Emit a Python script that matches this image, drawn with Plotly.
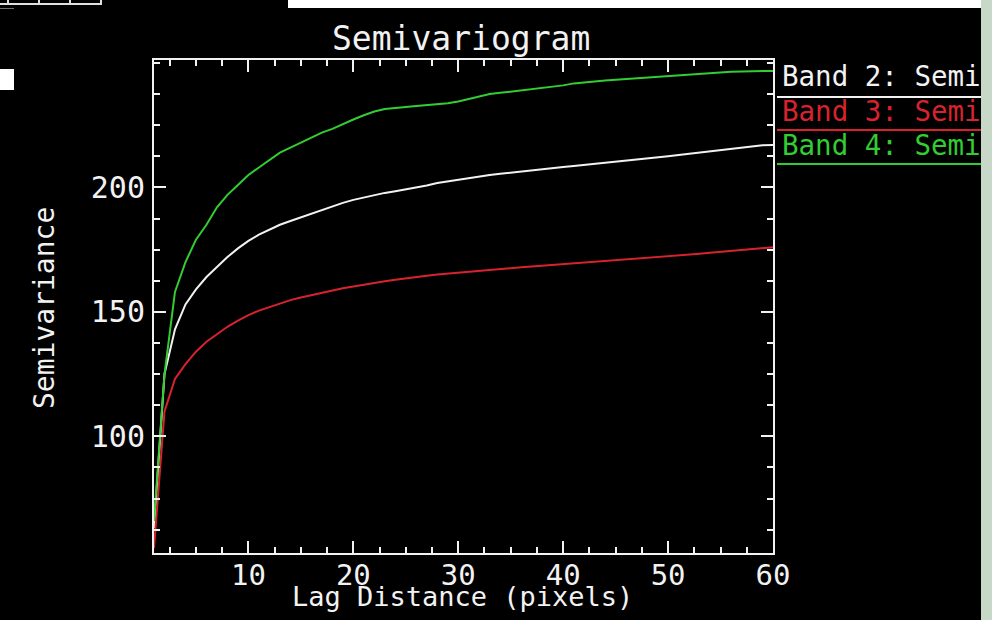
import plotly.graph_objects as go

W, H = 992, 620

# Lag distance in pixels
lag = list(range(1, 61))

# Semivariance per band at each lag
band2 = [63, 125, 143, 153, 159, 164, 168, 172, 175.5, 178.5,
         181, 183, 185, 186.5, 188, 189.5, 191, 192.5, 193.8, 195,
         196, 197, 197.8, 198.5, 199.2, 200, 200.8, 201.8, 202.5, 203.2,
         203.8, 204.4, 205, 205.5, 206, 206.5, 207, 207.4, 207.8, 208.2,
         208.6, 209, 209.4, 209.8, 210.2, 210.6, 211, 211.5, 212, 212.5,
         213, 213.5, 214, 214.6, 215.1, 215.6, 216.1, 216.5, 216.9, 217]
band3 = [55, 110, 123, 129, 134, 138, 141, 144, 146.5, 148.7,
         150.5, 152, 153.4, 154.7, 155.8, 156.8, 157.8, 158.7, 159.5, 160.2,
         161, 161.7, 162.3, 162.9, 163.5, 164, 164.5, 165, 165.4, 165.8,
         166.2, 166.6, 167, 167.3, 167.6, 167.9, 168.2, 168.5, 168.8, 169.1,
         169.4, 169.7, 170, 170.3, 170.6, 170.9, 171.2, 171.5, 171.8, 172.1,
         172.5, 172.9, 173.3, 173.7, 174.1, 174.5, 174.9, 175.3, 175.7, 176]
band4 = [66, 125, 158, 170, 179, 185, 192, 197, 201, 205,
         208, 211, 214, 216, 218, 220, 222, 223.5, 225.5, 227.3,
         229, 230.5, 231.5, 232, 232.3, 232.7, 233, 233.3, 233.8, 234.5,
         235.5, 236.5, 237.5, 238, 238.5, 239, 239.5, 240, 240.5, 241,
         241.8, 242.3, 242.7, 243, 243.3, 243.6, 243.9, 244.2, 244.5, 244.8,
         245.1, 245.4, 245.8, 246.1, 246.3, 246.5, 246.6, 246.7, 246.7, 246.8]

series = [band2, band3, band4]
series_names = ["Band 2: Semivariogram", "Band 3: Semivariogram", "Band 4: Semivariogram"]
series_colors = ["#f2f2f2", "#d8232f", "#33cc33"]

x_range = [1, 60]
x_ticks = [10, 20, 30, 40, 50, 60]
y_range = [53.1, 251.2]
y_ticks = [100, 150, 200]

FONT = "DejaVu Sans Mono"
WHITE = "#f2f2f2"


def fx(p):
    return p / W


def fy(p):
    return 1 - p / H


fig = go.Figure()

for vals, name, col in zip(series, series_names, series_colors):
    fig.add_trace(go.Scatter(x=lag, y=vals, mode="lines", name=name,
                             line=dict(color=col, width=2),
                             xaxis="x", yaxis="y", showlegend=False,
                             hoverinfo="skip"))

# Key on the right: label with an underline of the series colour,
# clipped to its own panel so the text is cut at the panel edge.
key_text_y = [79, 114, 148]
key_line_y = [97, 130, 164]
for name, col, ty, ly in zip(series_names, series_colors, key_text_y, key_line_y):
    fig.add_trace(go.Scatter(x=[782], y=[ty], mode="text", text=[name],
                             textposition="middle right",
                             textfont=dict(family=FONT, size=27.5, color=col),
                             xaxis="x2", yaxis="y2", cliponaxis=True,
                             showlegend=False, hoverinfo="skip"))
    fig.add_trace(go.Scatter(x=[777, 985], y=[ly, ly], mode="lines",
                             line=dict(color=col, width=2),
                             xaxis="x2", yaxis="y2", cliponaxis=True,
                             showlegend=False, hoverinfo="skip"))

axis_common = dict(
    showgrid=False, zeroline=False, showline=True, linecolor=WHITE,
    linewidth=2, mirror="allticks", ticks="inside", ticklen=12,
    tickwidth=2, tickcolor=WHITE, fixedrange=True, automargin=False,
)

fig.update_layout(
    template="none",
    width=W, height=H,
    margin=dict(l=0, r=0, t=0, b=0, pad=0),
    paper_bgcolor="#000000", plot_bgcolor="#000000",
    xaxis=dict(domain=[fx(154), fx(773)], range=x_range,
               tickmode="array", tickvals=x_ticks,
               minor=dict(tick0=0, dtick=2.5, ticks="inside", ticklen=6,
                          tickwidth=2, tickcolor=WHITE, showgrid=False),
               tickfont=dict(family=FONT, size=29, color=WHITE),
               ticklabelstandoff=-5, anchor="y", **axis_common),
    yaxis=dict(domain=[fy(553), fy(60)], range=y_range,
               tickmode="array", tickvals=y_ticks,
               minor=dict(tick0=0, dtick=12.5, ticks="inside", ticklen=6,
                          tickwidth=2, tickcolor=WHITE, showgrid=False),
               tickfont=dict(family=FONT, size=30, color=WHITE),
               ticklabelstandoff=1, anchor="x", **axis_common),
    xaxis2=dict(domain=[fx(776), fx(981)], range=[776, 981], visible=False,
                fixedrange=True, automargin=False, anchor="y2"),
    yaxis2=dict(domain=[0, 1], range=[H, 0], visible=False,
                fixedrange=True, automargin=False, anchor="x2"),
)

# Titles
fig.add_annotation(text="Semivariogram", xref="paper", yref="paper",
                   x=fx(461), y=fy(39), xanchor="center", yanchor="middle",
                   showarrow=False,
                   font=dict(family=FONT, size=33, color=WHITE))
fig.add_annotation(text="Lag Distance (pixels)", xref="paper", yref="paper",
                   x=fx(462), y=fy(596), xanchor="center", yanchor="middle",
                   showarrow=False,
                   font=dict(family=FONT, size=27, color=WHITE))
fig.add_annotation(text="Semivariance", xref="paper", yref="paper",
                   x=fx(44), y=fy(308), xanchor="center", yanchor="middle",
                   showarrow=False, textangle=-90,
                   font=dict(family=FONT, size=28, color=WHITE))

# Surrounding window furniture
shapes = [
    # white bar along the top
    dict(type="rect", xref="paper", yref="paper", x0=fx(288), x1=fx(981),
         y0=fy(8), y1=fy(0), fillcolor="#ffffff", line=dict(width=0)),
    # pale green strip on the right edge
    dict(type="rect", xref="paper", yref="paper", x0=fx(981), x1=1,
         y0=0, y1=1, fillcolor="#c7d8c8", line=dict(width=0)),
    # small toolbar cells top-left
    dict(type="rect", xref="paper", yref="paper", x0=fx(-2), x1=fx(101),
         y0=fy(4), y1=fy(-4), fillcolor="rgba(0,0,0,0)",
         line=dict(color="#e0e0e0", width=2)),
    dict(type="line", xref="paper", yref="paper", x0=fx(39), x1=fx(39),
         y0=fy(4), y1=1, line=dict(color="#e0e0e0", width=2)),
    dict(type="line", xref="paper", yref="paper", x0=fx(70), x1=fx(70),
         y0=fy(4), y1=1, line=dict(color="#e0e0e0", width=2)),
    dict(type="line", xref="paper", yref="paper", x0=fx(8), x1=fx(8),
         y0=fy(4), y1=1, line=dict(color="#e0e0e0", width=2)),
    dict(type="line", xref="paper", yref="paper", x0=0, x1=fx(14),
         y0=fy(8.5), y1=fy(8.5), line=dict(color="#707070", width=1)),
    dict(type="rect", xref="paper", yref="paper", x0=0, x1=fx(14),
         y0=fy(90), y1=fy(69), fillcolor="#ffffff", line=dict(width=0)),
]
fig.update_layout(shapes=shapes)

fig.write_html("out.html")
